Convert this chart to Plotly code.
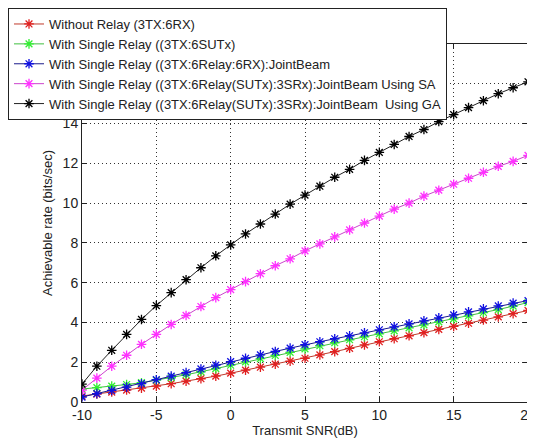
import plotly.graph_objects as go

snr = list(range(-10, 21))

without_relay = [0.3, 0.4, 0.5, 0.6, 0.7, 0.8, 0.92, 1.05, 1.17, 1.3, 1.45, 1.6, 1.75, 1.9, 2.05, 2.2,
                 2.37, 2.53, 2.7, 2.87, 3.03, 3.18, 3.33, 3.49, 3.65, 3.8, 3.96, 4.12, 4.28, 4.44, 4.6]
single_relay_sutx = [0.65, 0.72, 0.8, 0.88, 0.97, 1.1, 1.22, 1.37, 1.52, 1.68, 1.85, 2.02, 2.18, 2.34, 2.5, 2.67,
                     2.83, 2.98, 3.13, 3.28, 3.43, 3.58, 3.73, 3.88, 4.03, 4.18, 4.33, 4.5, 4.65, 4.82, 5.0]
single_relay_joint = [0.25, 0.42, 0.58, 0.75, 0.92, 1.12, 1.3, 1.48, 1.66, 1.85, 2.03, 2.2, 2.37, 2.54, 2.71, 2.88,
                      3.03, 3.18, 3.33, 3.48, 3.63, 3.78, 3.93, 4.08, 4.23, 4.38, 4.53, 4.68, 4.83, 4.97, 5.1]
joint_sa = [0.6, 1.2, 1.8, 2.35, 2.9, 3.4, 3.9, 4.35, 4.8, 5.25, 5.65, 6.05, 6.45, 6.85, 7.2, 7.6,
            7.95, 8.3, 8.65, 9.0, 9.35, 9.7, 10.0, 10.35, 10.65, 10.95, 11.25, 11.55, 11.85, 12.1, 12.4]
joint_ga = [0.9, 1.8, 2.6, 3.4, 4.15, 4.85, 5.5, 6.15, 6.75, 7.35, 7.9, 8.45, 8.95, 9.45, 9.95, 10.4,
            10.85, 11.3, 11.7, 12.15, 12.55, 12.95, 13.35, 13.7, 14.1, 14.45, 14.8, 15.15, 15.5, 15.8, 16.1]

names = [
    "Without Relay (3TX:6RX)",
    "With Single Relay ((3TX:6SUTx)",
    "With Single Relay ((3TX:6Relay:6RX):JointBeam",
    "With Single Relay ((3TX:6Relay(SUTx):3SRx):JointBeam Using SA",
    "With Single Relay ((3TX:6Relay(SUTx):3SRx):JointBeam  Using GA",
]
series = [without_relay, single_relay_sutx, single_relay_joint, joint_sa, joint_ga]
line_colors = ["#c0392b", "#3fbf3f", "#1a1a8c", "#cc44cc", "#222222"]
marker_colors = ["#e02020", "#33ee33", "#1010e0", "#ff30ff", "#000000"]

x_ticks = [-10, -5, 0, 5, 10, 15, 20]
x_tick_labels = ["-10", "-5", "0", "5", "10", "15", "20"]
y_ticks = [0, 2, 4, 6, 8, 10, 12, 14, 16]
y_tick_labels = ["0", "2", "4", "6", "8", "10", "12", "14", "16"]

fig = go.Figure()
for name, ys, lc, mc in zip(names, series, line_colors, marker_colors):
    fig.add_trace(go.Scatter(
        x=snr, y=ys, mode="lines+markers", name=name,
        line=dict(color=lc, width=1),
        marker=dict(symbol="asterisk-open", size=8, color=mc, line=dict(color=mc, width=1.3)),
    ))

axis_common = dict(
    showline=True, linecolor="#222", linewidth=1, mirror="ticks",
    ticks="inside", ticklen=5, tickcolor="#222",
    showgrid=True, gridcolor="#333333", griddash="1px,3px", gridwidth=1,
    zeroline=False, automargin=False, ticklabeloverflow="allow",
    tickfont=dict(family="Liberation Sans, Arial", size=14, color="#222"),
)

# the page body adds an 8px offset, so the figure is 8px smaller than the window
fig.update_layout(
    width=527, height=432,
    margin=dict(l=74, r=7, t=36, b=38, autoexpand=False),
    paper_bgcolor="white", plot_bgcolor="white",
    font=dict(family="Liberation Sans, Arial", size=12, color="#222"),
    xaxis=dict(range=[-10, 20], tickvals=x_ticks, ticktext=x_tick_labels,
               title=dict(text="Transmit SNR(dB)", standoff=2, font=dict(size=13)), **axis_common),
    yaxis=dict(range=[0, 18], tickvals=y_ticks, ticktext=y_tick_labels,
               title=dict(text="Achievable rate (bits/sec)", standoff=7, font=dict(size=13)), **axis_common),
    legend=dict(x=-0.1659, y=1.1005, xanchor="left", yanchor="top",
                bgcolor="white", bordercolor="#222", borderwidth=1,
                font=dict(size=13, color="#222"), tracegroupgap=0, itemwidth=30),
    showlegend=True,
)

fig.write_html("out.html")
